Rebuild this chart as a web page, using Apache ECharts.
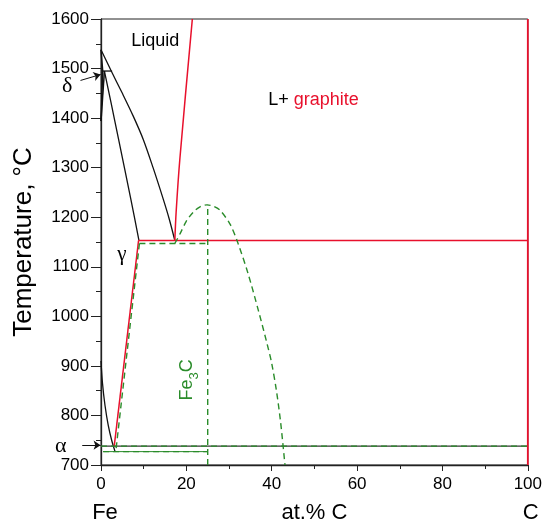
<!DOCTYPE html>
<html>
<head>
<meta charset="utf-8">
<script src="https://cdn.jsdelivr.net/npm/echarts@6/dist/echarts.min.js"></script>
<style>
html,body{margin:0;padding:0;background:#fff}
#chart{width:545px;height:529px}
</style>
</head>
<body>
<div id="chart"></div>
<script>
// Fe-C phase diagram, composition in at.% C, temperature in °C
var xTicks = [0, 20, 40, 60, 80, 100];
var yTicks = [700, 800, 900, 1000, 1100, 1200, 1300, 1400, 1500, 1600];

// black (iron rich phase boundaries)
var liquidus = [[0,1538],[2.4,1495],[5,1450],[7.5,1405],[9.9,1357],[12.2,1300],[14.6,1236],[16,1196],[17.3,1153]];
var solidus = [[0.8,1495],[2.4,1429],[4.1,1358],[7.0,1236],[8.9,1153]];
var deltaLoop = [[0,1538],[0.4,1495],[0,1394]];
var deltaGamma = [[0,1394],[0.8,1495]];
var peritectic = [[0.4,1495],[2.6,1495]];
var a3Line = [[0,910],[0.35,865],[0.94,820],[1.7,780],[2.5,750],[3.3,727]];
var eutectoidBlack = [[0,738],[100,738]];

// red (stable, graphite)
var graphiteLiquidus = [[17.3,1153],[17.6,1210],[18.5,1320],[21.4,1600]];
var eutecticStable = [[8.8,1153],[100,1153]];
var graphiteLine = [[100,700],[100,1600]];
var acmStable = [[8.8,1153],[3.1,738]];

// green dashed (metastable, Fe3C)
var fe3cLine = [[25,700],[25,1225]];
var fe3cLiquidus = [[17.3,1147],[18.6,1168],[20,1192],[21.7,1211],[23.2,1221],[24.8,1225],[26.4,1222],[27.9,1214],[30.3,1185],[32.2,1145],[34.5,1085],[36.9,1011],[38.9,945],[40.0,905],[41.1,850],[42.1,785],[43.1,700]];
var eutecticMeta = [[9.0,1147],[25,1147]];
var acmMeta = [[9.0,1147],[3.46,727]];
var eutectoidMeta = [[0,738],[100,738]];
var eutectoid727 = [[0.5,727],[25,727]];

// arrows pointing at the delta and alpha regions
var deltaArrow = [[-4.8,1476],[-0.1,1488]];
var alphaArrow = [[-4.4,740],[-0.1,740]];

var black = '#111', red = '#e8102c', green = '#2a8c2a';
var font = 'Liberation Sans, Arial, sans-serif';

function seg(data, color, dashed, width, smooth) {
	return {
		type: 'line', data: data, symbol: 'none', silent: true, clip: false,
		smooth: smooth || false,
		lineStyle: {color: color, width: width, type: dashed ? [6, 4] : 'solid'},
		z: dashed ? 4 : 3
	};
}

var chart = echarts.init(document.getElementById('chart'));

var series = [
	seg(liquidus, black, false, 1.3, 0.3),
	seg(solidus, black, false, 1.3, 0.3),
	seg(deltaLoop, black, false, 1.5),
	seg(deltaGamma, black, false, 1.5),
	seg(peritectic, black, false, 1.3),
	seg(a3Line, black, false, 1.3, 0.3),
	seg(eutectoidBlack, '#333', false, 1.3),
	seg(graphiteLiquidus, red, false, 1.5, 0.3),
	seg(eutecticStable, red, false, 1.5),
	seg(graphiteLine, red, false, 1.8),
	seg(acmStable, red, false, 1.5),
	seg(fe3cLine, green, true, 1.4),
	seg(fe3cLiquidus, green, true, 1.4, 0.3),
	seg(eutecticMeta, green, true, 1.4),
	seg(acmMeta, green, true, 1.4),
	seg(eutectoidMeta, green, true, 1.4),
	seg(eutectoid727, green, false, 1),
	seg(eutectoid727, green, true, 1.4),
	{
		type: 'lines', coordinateSystem: 'cartesian2d', clip: false, silent: true,
		symbol: ['none', 'arrow'], symbolSize: 7,
		lineStyle: {color: black, width: 1, opacity: 1},
		data: [{coords: deltaArrow}, {coords: alphaArrow}],
		z: 5
	}
];

chart.setOption({
	animation: false,
	grid: {left: 101, right: 17, top: 19, bottom: 60, show: true, borderColor: '#222', borderWidth: 1},
	xAxis: {
		type: 'value', min: xTicks[0], max: xTicks[xTicks.length - 1], interval: 20,
		name: 'at.% C', nameLocation: 'middle', nameGap: 37,
		nameTextStyle: {fontFamily: font, fontSize: 22, color: '#000'},
		axisLine: {lineStyle: {color: '#222', width: 1.3}},
		axisTick: {length: 6, lineStyle: {color: '#222'}},
		minorTick: {show: true, splitNumber: 2, length: 4, lineStyle: {color: '#222'}},
		splitLine: {show: false},
		axisLabel: {fontFamily: font, fontSize: 17, color: '#000', margin: 11}
	},
	yAxis: {
		type: 'value', min: yTicks[0], max: yTicks[yTicks.length - 1], interval: 100,
		name: 'Temperature, °C', nameLocation: 'middle', nameGap: 64,
		nameTextStyle: {fontFamily: font, fontSize: 26, color: '#000'},
		axisLine: {lineStyle: {color: '#222', width: 1.3}},
		axisTick: {length: 10, lineStyle: {color: '#222'}},
		minorTick: {show: true, splitNumber: 2, length: 5, lineStyle: {color: '#222'}},
		splitLine: {show: false},
		axisLabel: {fontFamily: font, fontSize: 17, color: '#000', margin: 12, formatter: function (v) { return String(v); }}
	},
	series: series
});

function px(x, y) { return chart.convertToPixel({gridIndex: 0}, [x, y]); }

var p0 = px(0, 700), p100 = px(100, 700);
var pLiq = px(12.7, 1556), pLG = px(39.2, 1436), pGam = px(4.9, 1124);
var pDel = px(-7.9, 1464), pAlp = px(-9.4, 738), pFe3 = px(19.7, 872);
var greek = 'Liberation Serif, DejaVu Serif, serif';

chart.setOption({
	graphic: [
		{type: 'text', x: p0[0] + 4, y: p0[1] + 48, style: {text: 'Fe', font: '22px ' + font, fill: '#000', align: 'center', verticalAlign: 'middle'}},
		{type: 'text', x: p100[0] + 3, y: p100[1] + 48, style: {text: 'C', font: '22px ' + font, fill: '#000', align: 'center', verticalAlign: 'middle'}},
		{type: 'text', x: pLiq[0], y: pLiq[1], style: {text: 'Liquid', font: '18px ' + font, fill: '#000', align: 'center', verticalAlign: 'middle'}},
		{type: 'text', x: pLG[0], y: pLG[1], style: {
			text: '{k|L+ }{r|graphite}', align: 'left', verticalAlign: 'middle',
			rich: {k: {fontFamily: font, fontSize: 18, fill: '#000'}, r: {fontFamily: font, fontSize: 18, fill: red}}
		}},
		{type: 'text', x: pGam[0], y: pGam[1], style: {text: 'γ', font: '21px ' + greek, fill: '#000', align: 'center', verticalAlign: 'middle'}},
		{type: 'text', x: pDel[0], y: pDel[1], style: {text: 'δ', font: '22px ' + greek, fill: '#000', align: 'center', verticalAlign: 'middle'}},
		{type: 'text', x: pAlp[0], y: pAlp[1], style: {text: 'α', font: '22px ' + greek, fill: '#000', align: 'center', verticalAlign: 'middle'}},
		{type: 'text', x: pFe3[0], y: pFe3[1], rotation: Math.PI / 2, style: {
			text: '{n|Fe}{s|3}{n|C}', align: 'center', verticalAlign: 'middle',
			rich: {
				n: {fontFamily: font, fontSize: 18, fill: green, lineHeight: 22, verticalAlign: 'bottom'},
				s: {fontFamily: font, fontSize: 13, fill: green, lineHeight: 22, verticalAlign: 'bottom', padding: [0, 0, -5, 0]}
			}
		}}
	]
});
</script>
</body>
</html>
